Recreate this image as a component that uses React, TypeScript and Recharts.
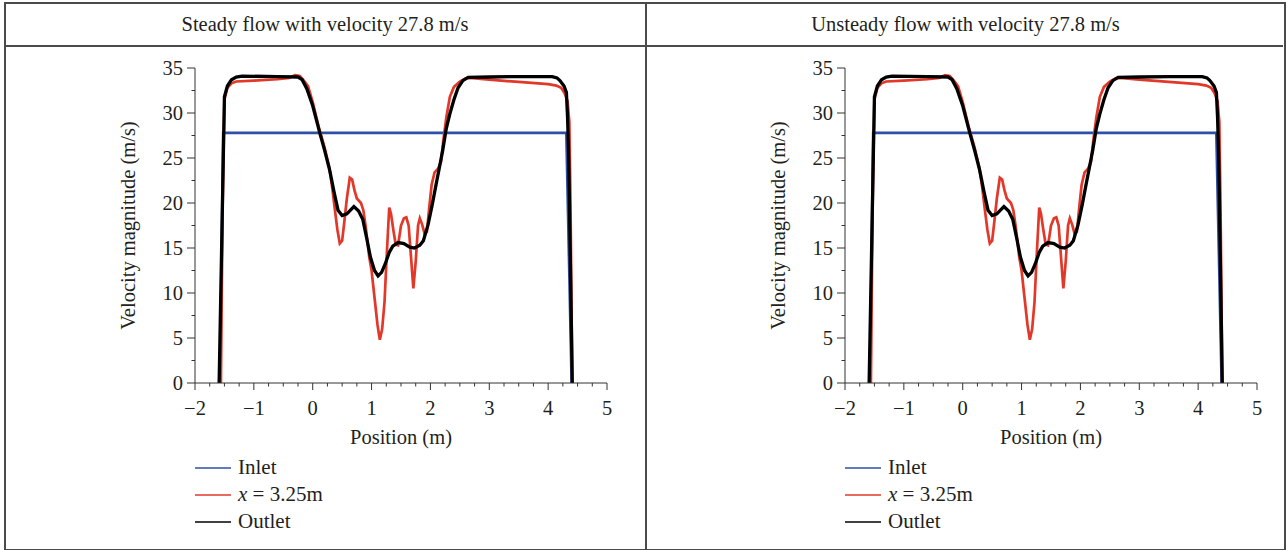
import React from "react";
import { LineChart, Line, XAxis, YAxis, Legend } from "recharts";

// ---------- data (position m, velocity m/s) ----------
const panelTitles = [
  "Steady flow with velocity 27.8 m/s",
  "Unsteady flow with velocity 27.8 m/s",
];

const xTicks = [
  -2, -1.75, -1.5, -1.25, -1, -0.75, -0.5, -0.25, 0, 0.25, 0.5, 0.75, 1, 1.25, 1.5, 1.75,
  2, 2.25, 2.5, 2.75, 3, 3.25, 3.5, 3.75, 4, 4.25, 4.5, 4.75, 5,
];
const yTicks = [0, 2.5, 5, 7.5, 10, 12.5, 15, 17.5, 20, 22.5, 25, 27.5, 30, 32.5, 35];

const inletPoints: number[][] = [
  [-1.575, 0], [-1.52, 27.8], [4.31, 27.8], [4.4, 0],
];

const midPoints: number[][] = [
  [-1.56, 0], [-1.53, 20], [-1.5, 31.5], [-1.45, 32.8], [-1.38, 33.3], [-1.3, 33.5],
  [-1.0, 33.6], [-0.6, 33.75], [-0.4, 33.9], [-0.3, 34.2], [-0.22, 34.1], [-0.15, 33.6],
  [-0.08, 33.0], [0, 31.2], [0.1, 28.5], [0.2, 26.2], [0.28, 24.0], [0.33, 21.8],
  [0.37, 19.6], [0.42, 17.0], [0.46, 15.5], [0.5, 15.8], [0.53, 17.5], [0.58, 20.5],
  [0.63, 22.8], [0.67, 22.6], [0.71, 21.4], [0.75, 20.5], [0.82, 20.0], [0.86, 19.2],
  [0.9, 17.4], [0.96, 14.0], [1.0, 12.5], [1.05, 9.5], [1.1, 6.5], [1.14, 4.8],
  [1.18, 6.0], [1.22, 9.0], [1.26, 14.5], [1.3, 19.5], [1.33, 18.8], [1.37, 17.0],
  [1.41, 15.4], [1.45, 15.3], [1.5, 17.5], [1.55, 18.3], [1.59, 18.4], [1.63, 17.5],
  [1.67, 14.0], [1.71, 10.5], [1.75, 13.5], [1.79, 17.5], [1.82, 18.3], [1.86, 17.6],
  [1.9, 16.6], [1.94, 16.8], [1.98, 19.5], [2.02, 22.0], [2.07, 23.4], [2.13, 23.8],
  [2.18, 24.6], [2.22, 27.0], [2.27, 29.5], [2.33, 31.8], [2.4, 32.9], [2.5, 33.5],
  [2.6, 33.85], [2.67, 33.9], [3.0, 33.7], [3.5, 33.45], [4.0, 33.2], [4.14, 33.05],
  [4.22, 32.8], [4.28, 32.2], [4.33, 31.3], [4.36, 29.0], [4.38, 20], [4.41, 0],
];

const outletPoints: number[][] = [
  [-1.59, 0], [-1.5, 31.8], [-1.45, 33.0], [-1.38, 33.7], [-1.3, 34.0], [-1.2, 34.1],
  [-0.6, 34.05], [-0.25, 34.0], [-0.18, 33.7], [-0.1, 32.7], [0, 30.8], [0.12, 27.8],
  [0.2, 25.9], [0.29, 23.6], [0.36, 21.3], [0.43, 19.2], [0.5, 18.6], [0.58, 18.8],
  [0.7, 19.6], [0.78, 19.1], [0.85, 18.2], [0.92, 16.0], [0.98, 14.0], [1.05, 12.5],
  [1.11, 11.9], [1.17, 12.3], [1.23, 13.2], [1.3, 14.5], [1.36, 15.2], [1.45, 15.6],
  [1.55, 15.5], [1.65, 15.1], [1.73, 15.0], [1.82, 15.3], [1.88, 15.8], [1.96, 17.6],
  [2.03, 19.8], [2.1, 22.2], [2.16, 24.2], [2.21, 25.9], [2.27, 28.3], [2.33, 29.9],
  [2.4, 31.5], [2.47, 32.8], [2.55, 33.6], [2.64, 33.95], [3.0, 34.0], [3.5, 34.05],
  [4.07, 34.05], [4.15, 33.9], [4.2, 33.6], [4.27, 33.0], [4.31, 32.3], [4.33, 29.5],
  [4.35, 25], [4.41, 0],
];

const seriesNames = ["Inlet", "x = 3.25m", "Outlet"];
const seriesColors = ["#2d4fa6", "#e2382a", "#000000"];

// ---------- helpers ----------
const FONT = "'Liberation Serif', 'DejaVu Serif', serif";
const TEXT_COLOR = "#231f20";
const AXIS_COLOR = "#333333";
const FS = 20.5;
const toRows = (pts: number[][]) => pts.map(([x, y]) => ({ x, y }));
const fmt = (v: number) => String(v).replace("-", "\u2212");

const XTick = (props: any) => {
  const { x, y, payload } = props;
  const v = payload.value as number;
  const major = Number.isInteger(v);
  return (
    <g>
      <line x1={x} x2={x} y1={y} y2={y + (major ? 7 : 3.5)} stroke={AXIS_COLOR} strokeWidth={1} />
      {major && (
        <text x={x} y={y + 25} textAnchor="middle" dominantBaseline="central" fontFamily={FONT} fontSize={FS} fill={TEXT_COLOR}>
          {fmt(v)}
        </text>
      )}
    </g>
  );
};

const YTick = (props: any) => {
  const { x, y, payload } = props;
  const v = payload.value as number;
  const major = v % 5 === 0;
  return (
    <g>
      <line x1={x} x2={x - (major ? 8 : 3.5)} y1={y} y2={y} stroke={AXIS_COLOR} strokeWidth={1} />
      {major && (
        <text x={x - 12} y={y} textAnchor="end" dominantBaseline="central" fontFamily={FONT} fontSize={FS} fill={TEXT_COLOR}>
          {fmt(v)}
        </text>
      )}
    </g>
  );
};

const YLabel = (props: any) => {
  const vb = props.viewBox || {};
  const cx = vb.x + 28;
  const cy = vb.y + vb.height / 2;
  return (
    <text x={cx} y={cy} transform={`rotate(-90 ${cx} ${cy})`} textAnchor="middle" dominantBaseline="central" fontFamily={FONT} fontSize={FS} fill={TEXT_COLOR}>
      Velocity magnitude (m/s)
    </text>
  );
};

const XLabel = (props: any) => {
  const vb = props.viewBox || {};
  const cx = vb.x + vb.width / 2;
  const cy = vb.y + 54;
  return (
    <text x={cx} y={cy} textAnchor="middle" dominantBaseline="central" fontFamily={FONT} fontSize={FS} fill={TEXT_COLOR}>
      Position (m)
    </text>
  );
};

const LegendContent = (props: any) => {
  const payload = [...(props.payload || [])].sort(
    (a: any, b: any) => seriesNames.indexOf(a.value) - seriesNames.indexOf(b.value)
  );
  return (
    <div style={{ fontFamily: FONT, fontSize: 21, color: TEXT_COLOR }}>
      {payload.map((e: any) => {
        const name: string = e.value;
        return (
          <div key={name} style={{ display: "flex", alignItems: "center", height: 27 }}>
            <svg width={36} height={4} style={{ display: "block" }}>
              <line x1={0} x2={36} y1={2} y2={2} stroke={e.color} strokeWidth={1.5} />
            </svg>
            <span style={{ marginLeft: 7, whiteSpace: "nowrap" }}>
              {name.startsWith("x ") ? (
                <>
                  <i>x</i>
                  {name.slice(1)}
                </>
              ) : (
                name
              )}
            </span>
          </div>
        );
      })}
    </div>
  );
};

const Panel = ({ left }: { left: number }) => (
  <div style={{ position: "absolute", left, top: 0, width: 646, height: 550 }}>
    <LineChart width={646} height={550} margin={{ top: 68, right: 39, bottom: 97, left: 100 }}>
      <XAxis
        type="number"
        dataKey="x"
        domain={[-2, 5]}
        ticks={xTicks}
        interval={0}
        allowDataOverflow
        tickSize={0}
        tickMargin={0}
        tickLine={false}
        tick={<XTick />}
        height={70}
        axisLine={{ stroke: AXIS_COLOR, strokeWidth: 1 }}
        label={<XLabel />}
      />
      <YAxis
        type="number"
        dataKey="y"
        domain={[0, 35]}
        ticks={yTicks}
        interval={0}
        allowDataOverflow
        tickSize={0}
        tickMargin={0}
        tickLine={false}
        tick={<YTick />}
        width={95}
        axisLine={{ stroke: AXIS_COLOR, strokeWidth: 1 }}
        label={<YLabel />}
      />
      <Legend
        layout="vertical"
        align="center"
        verticalAlign="middle"
        content={<LegendContent />}
        wrapperStyle={{ position: "absolute", left: 195, top: 454, width: 220, height: 85 }}
      />
      <Line data={toRows(inletPoints)} dataKey="y" name={seriesNames[0]} type="linear" stroke={seriesColors[0]} strokeWidth={2.8} dot={false} activeDot={false} isAnimationActive={false} />
      <Line data={toRows(midPoints)} dataKey="y" name={seriesNames[1]} type="linear" stroke={seriesColors[1]} strokeWidth={2.7} dot={false} activeDot={false} isAnimationActive={false} />
      <Line data={toRows(outletPoints)} dataKey="y" name={seriesNames[2]} type="linear" stroke={seriesColors[2]} strokeWidth={3.3} dot={false} activeDot={false} isAnimationActive={false} />
    </LineChart>
  </div>
);

export default function App() {
  const border = "2px solid #4a4a4a";
  return (
    <div style={{ position: "absolute", left: 0, top: 0, width: 1287, height: 550, background: "#fff", overflow: "hidden" }}>
      <Panel left={0} />
      <Panel left={650} />
      {/* table frame */}
      <div style={{ position: "absolute", left: 4, top: 2, width: 1278, height: 545, border, pointerEvents: "none" }} />
      <div style={{ position: "absolute", left: 5, top: 45, width: 1278, height: 0, borderTop: border }} />
      <div style={{ position: "absolute", left: 645, top: 3, width: 0, height: 546, borderLeft: border }} />
      {panelTitles.map((t, i) => (
        <div
          key={t}
          style={{
            position: "absolute",
            left: i === 0 ? 5 : 647,
            width: i === 0 ? 640 : 637,
            top: 3,
            height: 43,
            display: "flex",
            alignItems: "center",
            justifyContent: "center",
            fontFamily: FONT,
            fontSize: FS,
            color: TEXT_COLOR,
          }}
        >
          {t}
        </div>
      ))}
    </div>
  );
}
